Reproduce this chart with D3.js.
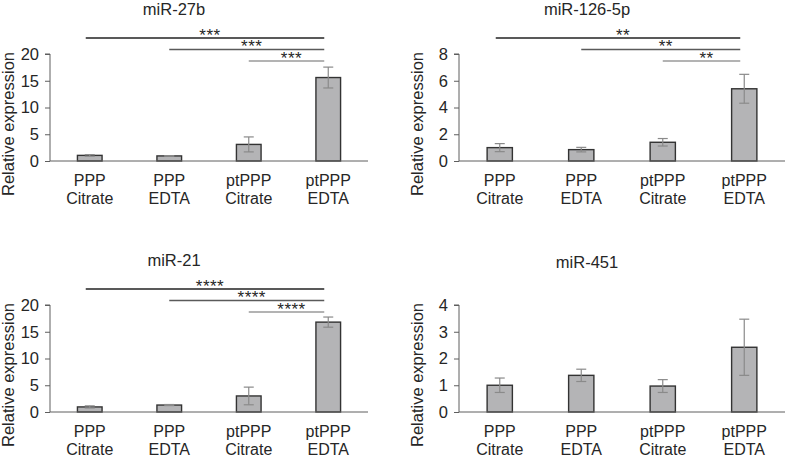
<!DOCTYPE html>
<html>
<head>
<meta charset="utf-8">
<script src="https://cdn.jsdelivr.net/npm/d3@7"></script>
<style>
  body { margin: 0; background: #fff; }
  text { font-family: "Liberation Sans", Arial, sans-serif; fill: #262626; }
</style>
</head>
<body>
<div id="chart"></div>
<script>
// categories (two text lines each)
var groupTop = ["PPP", "PPP", "ptPPP", "ptPPP"];
var groupBottom = ["Citrate", "EDTA", "Citrate", "EDTA"];

var titles = ["miR-27b", "miR-126-5p", "miR-21", "miR-451"];

// mean values
var mir27b = [1.05, 0.95, 3.1, 15.6];
var mir126 = [1.0, 0.85, 1.4, 5.4];
var mir21 = [0.95, 1.3, 3.0, 16.8];
var mir451 = [1.0, 1.37, 0.97, 2.42];

// error (sd) values
var mir27bErr = [0.15, 0.05, 1.4, 1.95];
var mir126Err = [0.3, 0.17, 0.28, 1.08];
var mir21Err = [0.2, 0.1, 1.65, 0.95];
var mir451Err = [0.27, 0.23, 0.24, 1.05];

// y axis ticks
var ticks27b = [0, 5, 10, 15, 20];
var ticks126 = [0, 2, 4, 6, 8];
var ticks21 = [0, 5, 10, 15, 20];
var ticks451 = [0, 1, 2, 3, 4];

// significance stars (ptPPP EDTA vs bar 0,1,2)
var stars27b = ["***", "***", "***"];
var stars126 = ["**", "**", "**"];
var stars21 = ["****", "****", "****"];
var stars451 = [];

var W = 787, H = 459;
var svg = d3.select("#chart").append("svg")
    .attr("width", W)
    .attr("height", H);

var panels = [
    {title: titles[0], vals: mir27b, err: mir27bErr, ticks: ticks27b, stars: stars27b, x0: 50, x1: 368, top: 54, title_y: 15},
    {title: titles[1], vals: mir126, err: mir126Err, ticks: ticks126, stars: stars126, x0: 459, x1: 785, top: 54, title_y: 15},
    {title: titles[2], vals: mir21, err: mir21Err, ticks: ticks21, stars: stars21, x0: 50, x1: 368, top: 305, title_y: 266},
    {title: titles[3], vals: mir451, err: mir451Err, ticks: ticks451, stars: stars451, x0: 459, x1: 785, top: 305, title_y: 268}
];

var lineCols = ["#222222", "#5a5a5a", "#9a9a9a"];

panels.forEach(function(p) {
    var bottom = p.top + 107;
    var g = svg.append("g");

    var x = d3.scaleBand()
        .domain(d3.range(4))
        .range([p.x0, p.x1])
        .paddingInner(0.69)
        .paddingOuter(0.345);

    var y = d3.scaleLinear()
        .domain([0, d3.max(p.ticks)])
        .range([bottom, p.top]);

    // y axis
    var yAxis = g.append("g")
        .attr("transform", "translate(" + p.x0 + ",0)")
        .call(d3.axisLeft(y).tickValues(p.ticks).tickSize(5).tickPadding(6).tickFormat(d3.format("d")));
    yAxis.selectAll("path, line").attr("stroke", "#5e5e5e");
    yAxis.selectAll("text").style("font-size", "16.5px").attr("fill", "#262626");
    yAxis.select(".domain").attr("d", "M0," + bottom + "V" + p.top + "H-5");

    // bars
    g.selectAll(".bar")
        .data(p.vals)
        .enter()
        .append("rect")
        .attr("x", function(d, i) { return x(i); })
        .attr("y", function(d) { return y(d); })
        .attr("width", x.bandwidth())
        .attr("height", function(d) { return bottom - y(d); })
        .attr("fill", "#b4b4b6")
        .attr("stroke", "#333333")
        .attr("stroke-width", 1.4);

    // x axis line
    g.append("line")
        .attr("x1", p.x0).attr("x2", p.x1)
        .attr("y1", bottom).attr("y2", bottom)
        .attr("stroke", "#5e5e5e").attr("stroke-width", 1);

    // error bars
    var eb = g.selectAll(".err")
        .data(p.vals)
        .enter()
        .append("g")
        .attr("stroke", "#8a8a8a")
        .attr("stroke-width", 1.2);
    eb.append("line")
        .attr("x1", function(d, i) { return x(i) + x.bandwidth() / 2; })
        .attr("x2", function(d, i) { return x(i) + x.bandwidth() / 2; })
        .attr("y1", function(d, i) { return y(d + p.err[i]); })
        .attr("y2", function(d, i) { return y(Math.max(0, d - p.err[i])); });
    [1, -1].forEach(function(s) {
        eb.append("line")
            .attr("x1", function(d, i) { return x(i) + x.bandwidth() / 2 - 5; })
            .attr("x2", function(d, i) { return x(i) + x.bandwidth() / 2 + 5; })
            .attr("y1", function(d, i) { return y(Math.max(0, d + s * p.err[i])); })
            .attr("y2", function(d, i) { return y(Math.max(0, d + s * p.err[i])); });
    });

    // category labels (two lines)
    [groupTop, groupBottom].forEach(function(row, r) {
        g.selectAll(".cat" + r)
            .data(row)
            .enter()
            .append("text")
            .attr("x", function(d, i) { return x(i) + x.bandwidth() / 2; })
            .attr("y", bottom + 25 + r * 17.5)
            .attr("text-anchor", "middle")
            .style("font-size", "16px")
            .text(function(d) { return d; });
    });

    // y label
    g.append("text")
        .attr("transform", "translate(" + (p.x0 - 36) + "," + (p.top + 70) + ") rotate(-90)")
        .attr("text-anchor", "middle")
        .style("font-size", "16.5px")
        .text("Relative expression");

    // title
    g.append("text")
        .attr("x", (p.x0 + p.x1) / 2 - 35)
        .attr("y", p.title_y)
        .attr("text-anchor", "middle")
        .style("font-size", "16.5px")
        .text(p.title);

    // significance brackets
    var xEnd = x(3) + x.bandwidth() / 2 - 4;
    p.stars.forEach(function(s, k) {
        var ly = p.top - 16 + k * 11.5;
        var xs = x(k) + x.bandwidth() / 2 - (k == 0 ? 4 : 0);
        g.append("line")
            .attr("x1", xs).attr("x2", xEnd)
            .attr("y1", ly).attr("y2", ly)
            .attr("stroke", lineCols[k]).attr("stroke-width", 1.3);
        g.append("text")
            .attr("x", (xs + xEnd) / 2 + 5)
            .attr("y", ly + 2.5)
            .attr("text-anchor", "middle")
            .style("font-size", "17px")
            .style("letter-spacing", "0.5px")
            .text(s);
    });
});
</script>
</body>
</html>
